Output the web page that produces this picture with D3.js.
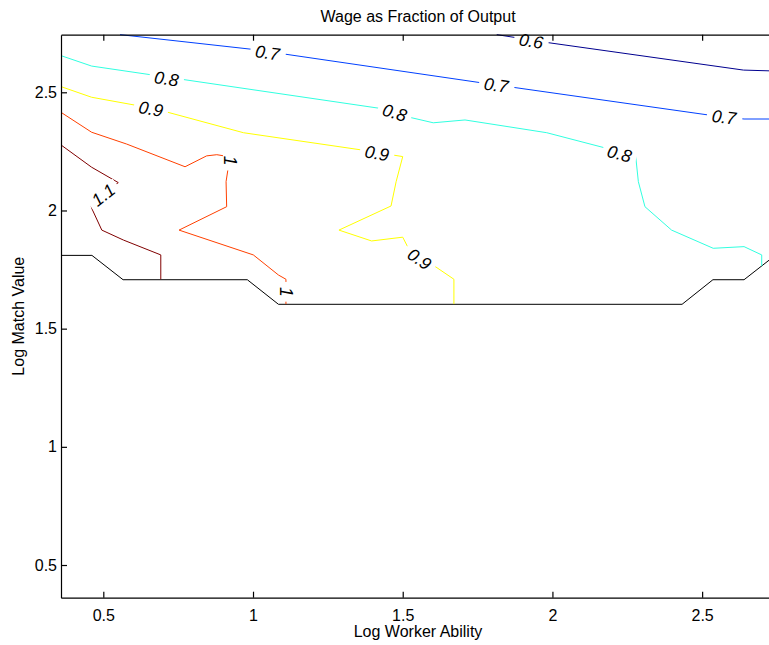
<!DOCTYPE html>
<html>
<head>
<meta charset="utf-8">
<script src="https://cdn.jsdelivr.net/npm/d3@7"></script>
<style>
  body { margin: 0; background: #fff; }
  svg { display: block; font-family: "Liberation Sans", Arial, Helvetica, sans-serif; }
</style>
</head>
<body>
<div id="chart"></div>
<script>
// contour levels + jet colours
const levels = [0.6, 0.7, 0.8, 0.9, 1.0, 1.1];
const levelColors = ["#00008f", "#0040ff", "#30ffe0", "#ffff00", "#ff4000", "#800000"];

// contour lines, points are [log worker ability, log match value]
const contour06 = [[1.814, 2.744], [1.986, 2.710], [2.638, 2.594], [2.744, 2.590]];
const contour07 = [[0.556, 2.744], [0.996, 2.682], [1.758, 2.541], [2.521, 2.404], [2.640, 2.387], [2.744, 2.387]];
const contour08 = [[0.359, 2.655], [0.461, 2.611], [1.424, 2.432], [1.524, 2.394], [1.602, 2.371], [1.708, 2.383],
  [1.981, 2.329], [2.181, 2.263], [2.278, 2.230], [2.287, 2.122], [2.309, 2.016], [2.398, 1.917],
  [2.537, 1.840], [2.640, 1.847], [2.699, 1.812], [2.699, 1.765]];
const contour09 = [[0.359, 2.524], [0.461, 2.479], [0.670, 2.431], [0.968, 2.329], [1.363, 2.256], [1.500, 2.228],
  [1.478, 2.122], [1.461, 2.019], [1.287, 1.917], [1.396, 1.871], [1.500, 1.887], [1.519, 1.840],
  [1.671, 1.709], [1.671, 1.604]];
const contour10 = [[0.359, 2.415], [0.461, 2.331], [0.578, 2.281], [0.773, 2.185], [0.845, 2.231], [0.879, 2.236],
  [0.918, 2.228], [0.918, 2.188], [0.910, 2.122], [0.912, 2.016], [0.753, 1.917], [1.001, 1.812],
  [1.085, 1.727], [1.110, 1.709], [1.110, 1.604]];
const contour11 = [[0.359, 2.277], [0.461, 2.183], [0.550, 2.118], [0.458, 2.027], [0.461, 2.010], [0.495, 1.917],
  [0.567, 1.875], [0.692, 1.812], [0.692, 1.709]];
// black edge of the computed region
const boundary = [[0.359, 1.810], [0.462, 1.810], [0.566, 1.707], [0.981, 1.707], [1.085, 1.603],
  [2.433, 1.603], [2.536, 1.707], [2.640, 1.707], [2.744, 1.810]];

// where the inline labels sit
const labels06 = [[1.929, 2.717]];
const labels07 = [[1.048, 2.668], [1.812, 2.531], [2.573, 2.396]];
const labels08 = [[0.711, 2.558], [1.473, 2.415], [2.224, 2.241]];
const labels09 = [[0.659, 2.431], [1.414, 2.243], [1.556, 1.795]];
const labels10 = [[0.923, 2.211], [1.110, 1.656]];
const labels11 = [[0.500, 2.066]];

const xTicks = [0.5, 1, 1.5, 2, 2.5];
const yTicks = [0.5, 1, 1.5, 2, 2.5];
const xDomain = [0.3587, 2.7437];
const yDomain = [0.3617, 2.7437];

const contours = [contour06, contour07, contour08, contour09, contour10, contour11];
const labelSets = [labels06, labels07, labels08, labels09, labels10, labels11];

const width = 769;
const height = 645;
const margin = { top: 34.7, left: 61 };
const plotW = 714.1;
const plotH = 563;

const svg = d3
  .select("#chart")
  .append("svg")
  .attr("width", width)
  .attr("height", height);

const x = d3.scaleLinear().domain(xDomain).range([margin.left, margin.left + plotW]);
const y = d3.scaleLinear().domain(yDomain).range([margin.top + plotH, margin.top]);

const line = d3
  .line()
  .x((d) => x(d[0]))
  .y((d) => y(d[1]));

// boundary + contour lines
svg
  .append("path")
  .datum(boundary)
  .attr("d", line)
  .attr("fill", "none")
  .attr("stroke", "#000")
  .attr("stroke-width", 1);

contours.forEach((c, i) => {
  svg
    .append("path")
    .datum(c)
    .attr("d", line)
    .attr("fill", "none")
    .attr("stroke", levelColors[i])
    .attr("stroke-width", 1);
});

// angle of the contour where the label sits (screen space)
const labelAngle = (pts, lx, ly) => {
  let best = Infinity, ang = 0;
  for (let k = 0; k < pts.length - 1; k++) {
    const x1 = x(pts[k][0]), y1 = y(pts[k][1]);
    const x2 = x(pts[k + 1][0]), y2 = y(pts[k + 1][1]);
    const dx = x2 - x1, dy = y2 - y1;
    const len2 = dx * dx + dy * dy;
    let t = len2 ? ((lx - x1) * dx + (ly - y1) * dy) / len2 : 0;
    t = Math.max(0, Math.min(1, t));
    const px = x1 + t * dx, py = y1 + t * dy;
    const dist = Math.hypot(lx - px, ly - py);
    if (dist < best) {
      best = dist;
      ang = (Math.atan2(dy, dx) * 180) / Math.PI;
    }
  }
  if (ang > 90) ang -= 180;
  if (ang <= -90) ang += 180;
  return ang;
};

labelSets.forEach((set, i) => {
  set.forEach((p) => {
    const lx = x(p[0]), ly = y(p[1]);
    const g = svg
      .append("g")
      .attr("transform", `translate(${lx},${ly}) rotate(${labelAngle(contours[i], lx, ly)})`);
    const bg = g.append("rect").attr("fill", "#fff");
    const t = g
      .append("text")
      .attr("text-anchor", "middle")
      .attr("dy", "0.36em")
      .attr("font-size", 17.5)
      .attr("font-style", "italic")
      .attr("fill", "#000")
      .text(d3.format("~g")(levels[i]));
    const bb = t.node().getBBox();
    bg.attr("x", bb.x - 5)
      .attr("y", -7)
      .attr("width", bb.width + 10)
      .attr("height", 14);
  });
});

// axes, ticks point inward on all four sides
const xAxis = (g) => {
  g.attr("transform", `translate(0, ${margin.top + plotH})`)
    .call(d3.axisBottom(x).tickValues(xTicks).tickFormat(d3.format("~g")).tickSize(-6).tickSizeOuter(0).tickPadding(12));
};
const xAxisTop = (g) => {
  g.attr("transform", `translate(0, ${margin.top})`)
    .call(d3.axisTop(x).tickValues(xTicks).tickFormat("").tickSize(-6).tickSizeOuter(0));
};
const yAxis = (g) => {
  g.attr("transform", `translate(${margin.left}, 0)`)
    .call(d3.axisLeft(y).tickValues(yTicks).tickFormat(d3.format("~g")).tickSize(-6).tickSizeOuter(0).tickPadding(4));
};
const yAxisRight = (g) => {
  g.attr("transform", `translate(${margin.left + plotW}, 0)`)
    .call(d3.axisRight(y).tickValues(yTicks).tickFormat("").tickSize(-6).tickSizeOuter(0));
};

[xAxis, xAxisTop, yAxis, yAxisRight].forEach((a) => {
  svg
    .append("g")
    .call(a)
    .call((g) => g.selectAll("text").attr("font-size", 16).attr("fill", "#000").style("font-family", "Liberation Sans, Arial, sans-serif"))
    .call((g) => g.selectAll("line, path").attr("stroke", "#000").attr("stroke-width", 1.2));
});

svg
  .append("text")
  .attr("x", margin.left + plotW / 2)
  .attr("y", 22)
  .attr("text-anchor", "middle")
  .attr("font-size", 16)
  .text("Wage as Fraction of Output");

svg
  .append("text")
  .attr("x", margin.left + plotW / 2)
  .attr("y", 637)
  .attr("text-anchor", "middle")
  .attr("font-size", 16)
  .text("Log Worker Ability");

svg
  .append("text")
  .attr("transform", `translate(24, ${margin.top + plotH / 2}) rotate(-90)`)
  .attr("text-anchor", "middle")
  .attr("font-size", 16)
  .text("Log Match Value");
</script>
</body>
</html>
